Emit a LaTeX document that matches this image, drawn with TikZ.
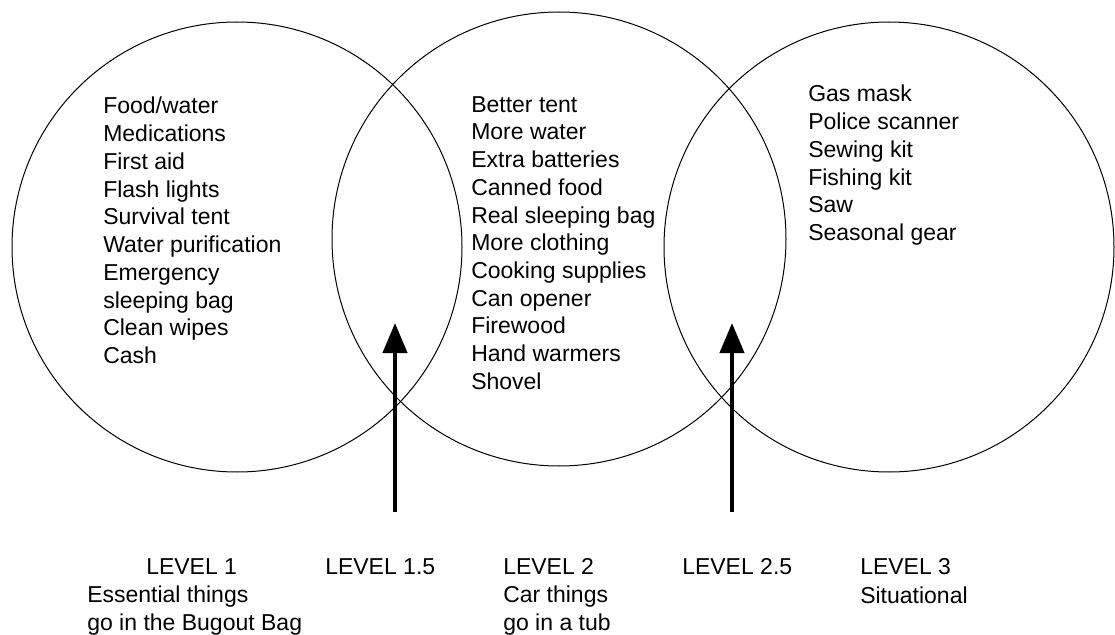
\documentclass[tikz,border=0pt]{standalone}
\usepackage{fontspec}
\setmainfont{Liberation Sans}
\usetikzlibrary{arrows.meta}
\tikzset{
  ring/.style={line width=0.75pt},
  lift/.style={line width=3.2pt,-{Triangle[width=18pt,length=22.5pt]}},
  items/.style={anchor=north west,inner sep=0pt,align=left,font=\fontsize{17.25}{20.8}\selectfont},
  level/.style={anchor=base west,inner sep=0pt,font=\fontsize{17.25}{20.8}\selectfont}
}
\begin{document}
\begin{tikzpicture}[x=0.75pt,y=-0.75pt]
    \useasboundingbox (0,0) rectangle (1115,635);
    % the three circles
    \coordinate (c1) at (237,247);
    \coordinate (c2) at (559,239);
    \coordinate (c3) at (889,247);
    \draw[ring] (c1) circle (225);
    \draw[ring] (c2) circle (227);
    \draw[ring] (c3) circle (225);
    % what goes in each level
    \node[items] (list1) at (103,97) {Food/water\\Medications\\First aid\\Flash lights\\Survival tent\\Water purification\\Emergency\\sleeping bag\\Clean wipes\\Cash};
    \node[items] (list2) at (471,96) {Better tent\\More water\\Extra batteries\\Canned food\\Real sleeping bag\\More clothing\\Cooking supplies\\Can opener\\Firewood\\Hand warmers\\Shovel};
    \node[items] (list3) at (808,85) {Gas mask\\Police scanner\\Sewing kit\\Fishing kit\\Saw\\Seasonal gear};
    % arrows into the overlaps
    \coordinate (foot1) at (395,512);
    \coordinate (tip1) at (395,323);
    \coordinate (foot2) at (732,512);
    \coordinate (tip2) at (732,323);
    \draw[lift] (foot1) -- (tip1);
    \draw[lift] (foot2) -- (tip2);
    % level captions
    \node[level] (lv1) at (146,574) {LEVEL 1};
    \node[level] (lv15) at (325,574) {LEVEL 1.5};
    \node[level] (lv2) at (503,574) {LEVEL 2};
    \node[level] (lv25) at (682,574) {LEVEL 2.5};
    \node[level] (lv3) at (860,574) {LEVEL 3};
    \node[items] (note1) at (87,586) {Essential things\\go in the Bugout Bag};
    \node[items] (note2) at (503,586) {Car things\\go in a tub};
    \node[level] (note3) at (860,603) {Situational};
\end{tikzpicture}
\end{document}
